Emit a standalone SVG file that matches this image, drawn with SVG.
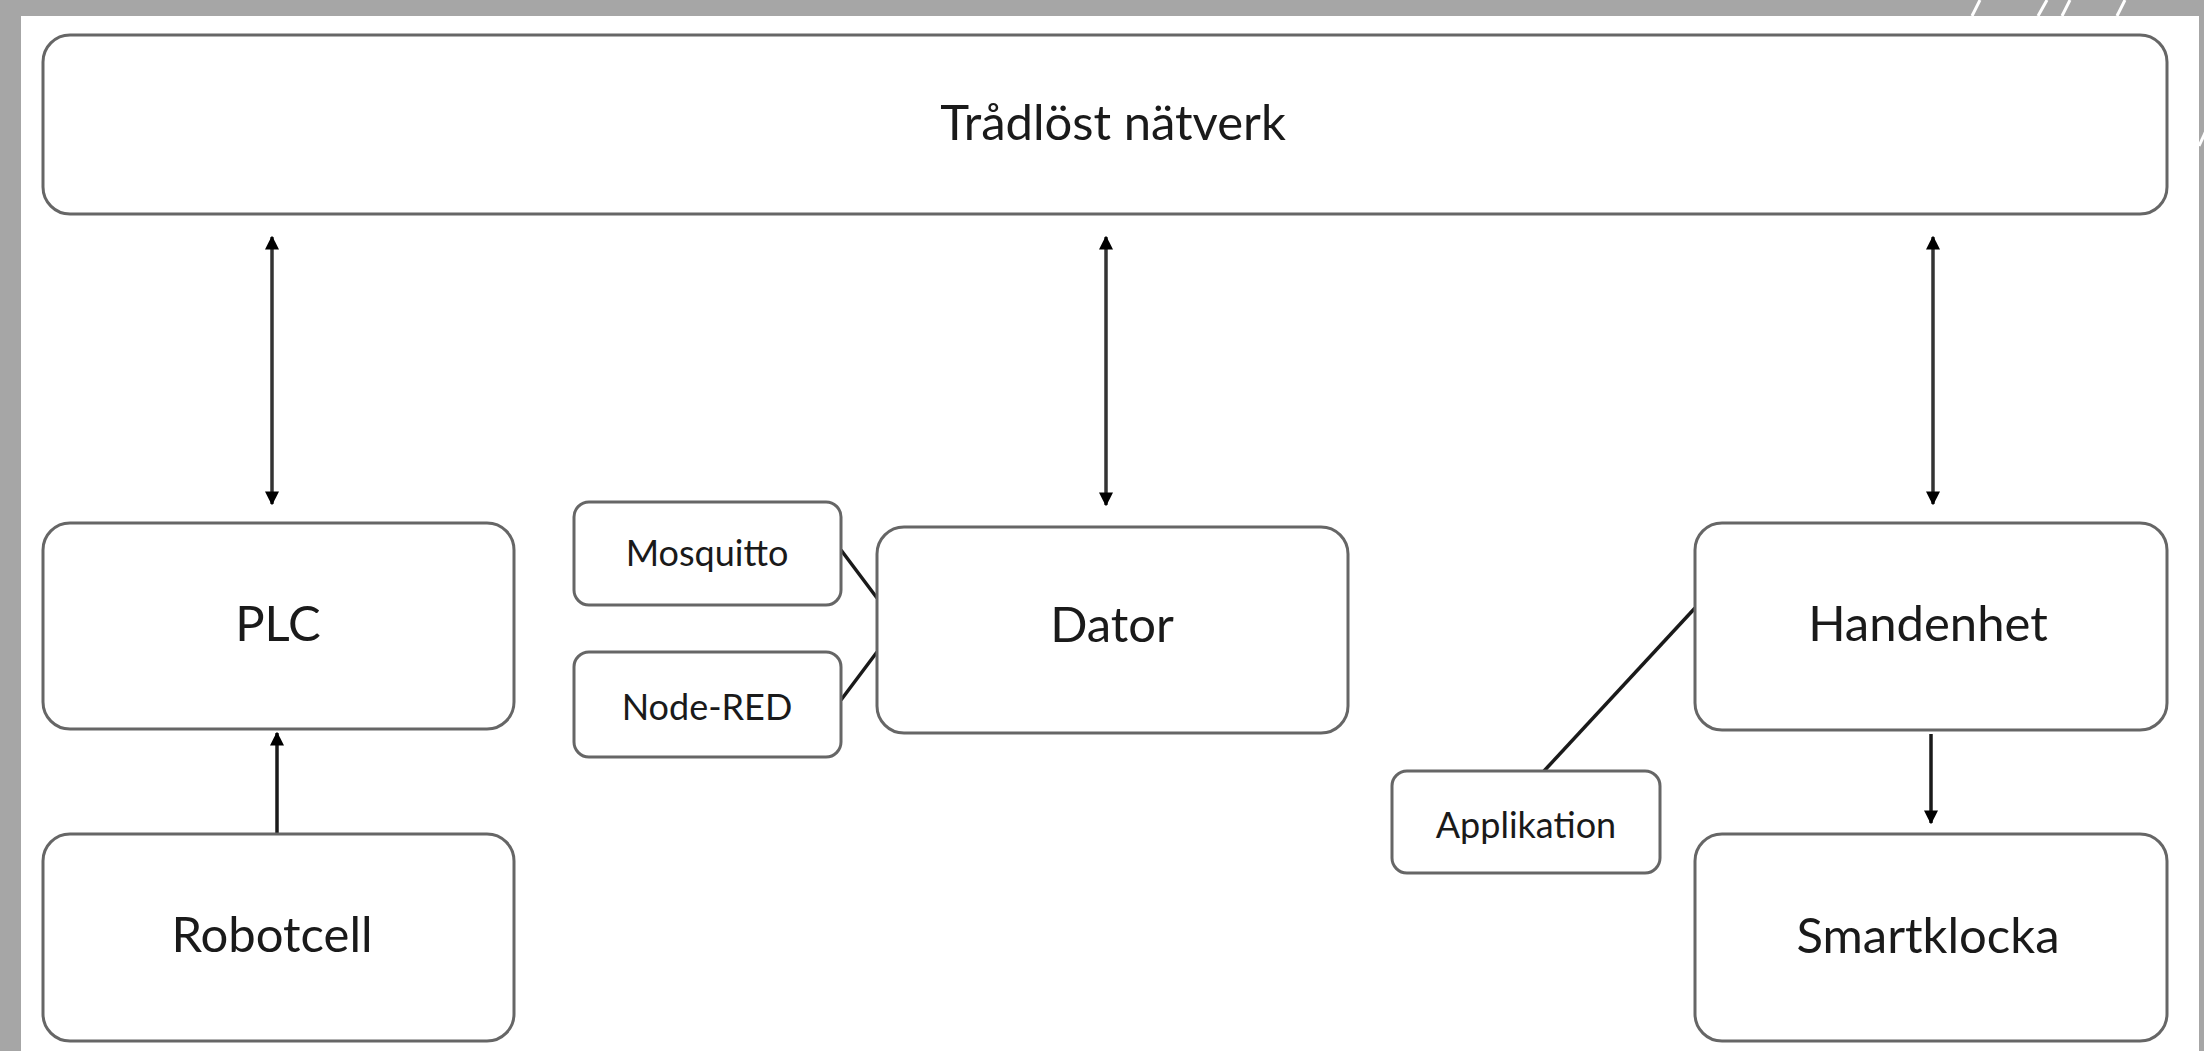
<svg xmlns="http://www.w3.org/2000/svg" width="2204" height="1051" viewBox="0 0 2204 1051">
  <style>
    .box { fill: #ffffff; stroke: #666666; stroke-width: 3; }
    .lbl { font-family: Lato, "Open Sans", "Liberation Sans", sans-serif; fill: #1a1a1a; text-anchor: middle; }
    .big { font-size: 49px; }
    .small { font-size: 36px; }
    .link { stroke: #1a1a1a; stroke-width: 3.5; fill: none; }
    .arrow { stroke: #333333; stroke-width: 3.5; fill: none; }
    .deco { stroke: #ffffff; stroke-width: 3; }
  </style>
  <defs>
    <marker id="head" viewBox="0 0 10 10" refX="9" refY="5" markerWidth="14" markerHeight="14" markerUnits="userSpaceOnUse" orient="auto-start-reverse">
      <path d="M0,0 L10,5 L0,10 z" fill="#000000"/>
    </marker>
  </defs>

  <!-- slide background and white content panel -->
  <rect x="0" y="0" width="2204" height="1051" fill="#a6a6a6"/>
  <rect x="21" y="16" width="2178" height="1035" fill="#ffffff"/>

  <!-- decorative slashes in the frame -->
  <g id="frame-deco">
    <line class="deco" x1="1972" y1="16" x2="1980" y2="0"/>
    <line class="deco" x1="2038" y1="16" x2="2047" y2="0" stroke-width="5"/>
    <line class="deco" x1="2062" y1="16" x2="2070" y2="0"/>
    <line class="deco" x1="2117" y1="16" x2="2125" y2="0"/>
    <line class="deco" x1="2199" y1="146" x2="2210" y2="122"/>
  </g>

  <!-- connectors -->
  <g id="connectors">
    <line class="arrow" x1="272" y1="237" x2="272" y2="504" marker-start="url(#head)" marker-end="url(#head)"/>
    <line class="arrow" x1="1106" y1="237" x2="1106" y2="505" marker-start="url(#head)" marker-end="url(#head)"/>
    <line class="arrow" x1="1933" y1="237" x2="1933" y2="504" marker-start="url(#head)" marker-end="url(#head)"/>
    <line class="link" x1="277" y1="833" x2="277" y2="733" marker-end="url(#head)"/>
    <line class="link" x1="1931" y1="734" x2="1931" y2="823" marker-end="url(#head)"/>
    <line class="link" x1="841" y1="550" x2="877" y2="598"/>
    <line class="link" x1="841" y1="700" x2="877" y2="652"/>
    <line class="link" x1="1544" y1="771" x2="1695" y2="608"/>
  </g>

  <g id="network">
    <rect class="box" x="43" y="35" width="2124" height="179" rx="27"/>
    <text class="lbl big" x="1113" y="140">Trådlöst nätverk</text>
  </g>

  <g id="plc">
    <rect class="box" x="43" y="523" width="471" height="206" rx="27"/>
    <text class="lbl big" x="278" y="641">PLC</text>
  </g>

  <g id="robotcell">
    <rect class="box" x="43" y="834" width="471" height="207" rx="27"/>
    <text class="lbl big" x="272" y="952">Robotcell</text>
  </g>

  <g id="mosquitto">
    <rect class="box" x="574" y="502" width="267" height="103" rx="15"/>
    <text class="lbl small" x="707" y="566">Mosquitto</text>
  </g>

  <g id="node-red">
    <rect class="box" x="574" y="652" width="267" height="105" rx="15"/>
    <text class="lbl small" x="707" y="720">Node-RED</text>
  </g>

  <g id="dator">
    <rect class="box" x="877" y="527" width="471" height="206" rx="27"/>
    <text class="lbl big" x="1112" y="642">Dator</text>
  </g>

  <g id="handenhet">
    <rect class="box" x="1695" y="523" width="472" height="207" rx="27"/>
    <text class="lbl big" x="1928" y="641">Handenhet</text>
  </g>

  <g id="applikation">
    <rect class="box" x="1392" y="771" width="268" height="102" rx="15"/>
    <text class="lbl small" x="1526" y="838">Applikation</text>
  </g>

  <g id="smartklocka">
    <rect class="box" x="1695" y="834" width="472" height="207" rx="27"/>
    <text class="lbl big" x="1928" y="953">Smartklocka</text>
  </g>
</svg>
